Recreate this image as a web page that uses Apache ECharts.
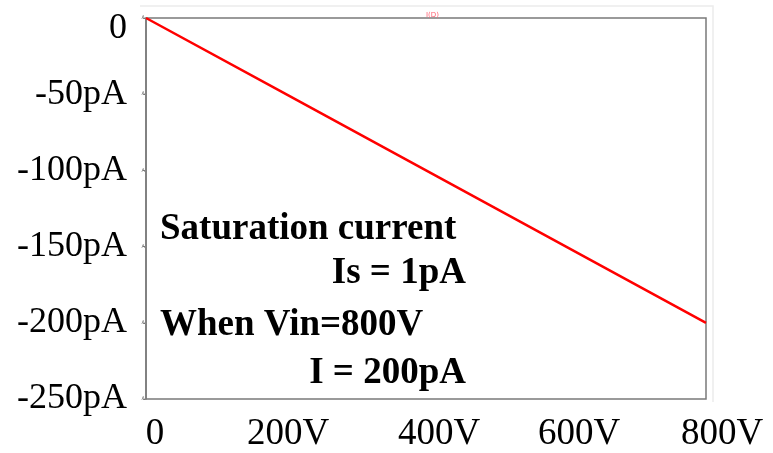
<!DOCTYPE html>
<html>
<head>
<meta charset="utf-8">
<script src="https://cdn.jsdelivr.net/npm/echarts@6/dist/echarts.min.js"></script>
<style>
html,body{margin:0;padding:0;background:#fff;}
#chart{width:773px;height:453px;}
</style>
</head>
<body>
<div id="chart"></div>
<script>
// Data
var voltages = [0, 200, 400, 600, 800];          // V
var currents = [0, -50, -100, -150, -200];       // pA
var xTickLabels = {0: '0', 200: '200V', 400: '400V', 600: '600V', 800: '800V'};
var yTickLabels = {0: '0', '-50': '-50pA', '-100': '-100pA', '-150': '-150pA', '-200': '-200pA', '-250': '-250pA'};
var seriesName = 'I(D)';
var notes = ['Saturation current', 'Is = 1pA', 'When Vin=800V', 'I = 200pA'];

// label horizontal nudges (style)
var xShift = {0: 9, 200: 2, 400: 13, 600: 13, 800: 16};

var serif = 'Liberation Serif';
var rich = {};
Object.keys(xShift).forEach(function (k) {
  var s = xShift[k];
  rich['s' + k] = {
    fontFamily: serif, fontSize: 37, color: '#000',
    padding: s >= 0 ? [0, 0, 0, 2 * s] : [0, -2 * s, 0, 0]
  };
});

var chart = echarts.init(document.getElementById('chart'));
var pts = voltages.map(function (v, i) { return [v, currents[i]]; });
var bold = { fontFamily: serif, fontWeight: 'bold', fontSize: 37, fill: '#000' };

chart.setOption({
  animation: false,
  backgroundColor: '#fff',
  title: {
    text: seriesName, left: 421, top: 7,
    textStyle: { color: '#ff6070', fontSize: 7, fontWeight: 'normal', fontFamily: 'DejaVu Sans' }
  },
  grid: { left: 146, top: 18, right: 67, bottom: 51, show: true, borderColor: '#7a7a7a', borderWidth: 1.5 },
  xAxis: {
    type: 'value', min: 0, max: 800, interval: 200,
    axisLine: { show: false }, axisTick: { show: false }, splitLine: { show: false },
    axisLabel: {
      margin: 17, fontFamily: serif, fontSize: 37, color: '#000',
      formatter: function (v) { return '{s' + v + '|' + xTickLabels[v] + '}'; },
      rich: rich
    }
  },
  yAxis: [{
    type: 'value', min: -250, max: 0, interval: 50,
    axisLine: { show: false }, axisTick: { show: false }, splitLine: { show: false },
    axisLabel: {
      margin: 19, fontFamily: serif, fontSize: 36, color: '#000',
      formatter: function (v) { return v === 0 ? '{z|' + yTickLabels['0'] + '}' : yTickLabels[String(v)]; },
      rich: { z: { fontFamily: serif, fontSize: 36, color: '#000', padding: [22, 0, 0, 0] } }
    }
  }, {
    type: 'value', min: -250, max: 0, interval: 50, position: 'left',
    axisLine: { show: true, lineStyle: { color: '#7a7a7a', width: 1.5 } },
    axisTick: { show: true, length: 3, inside: false, lineStyle: { color: '#888' } },
    splitLine: { show: false },
    axisLabel: { margin: 1, fontSize: 5, color: '#666', fontFamily: 'DejaVu Sans', formatter: function () { return 'A'; } }
  }],
  series: [{
    name: seriesName, type: 'line', data: pts, showSymbol: false, symbol: 'none',
    lineStyle: { color: '#ff0000', width: 2.5 }, yAxisIndex: 0
  }],
  graphic: [
    { type: 'polyline', shape: { points: [[140, 6], [713, 6], [713, 402]] }, style: { stroke: '#ececec', lineWidth: 1.5, fill: null }, silent: true },
    { type: 'text', style: Object.assign({ text: notes[0], x: 160, y: 229, textAlign: 'left', textVerticalAlign: 'middle' }, bold) },
    { type: 'text', style: Object.assign({ text: notes[1], x: 466, y: 273, textAlign: 'right', textVerticalAlign: 'middle' }, bold) },
    { type: 'text', style: Object.assign({ text: notes[2], x: 160, y: 325, textAlign: 'left', textVerticalAlign: 'middle' }, bold) },
    { type: 'text', style: Object.assign({ text: notes[3], x: 466, y: 373, textAlign: 'right', textVerticalAlign: 'middle' }, bold) }
  ]
});
</script>
</body>
</html>
